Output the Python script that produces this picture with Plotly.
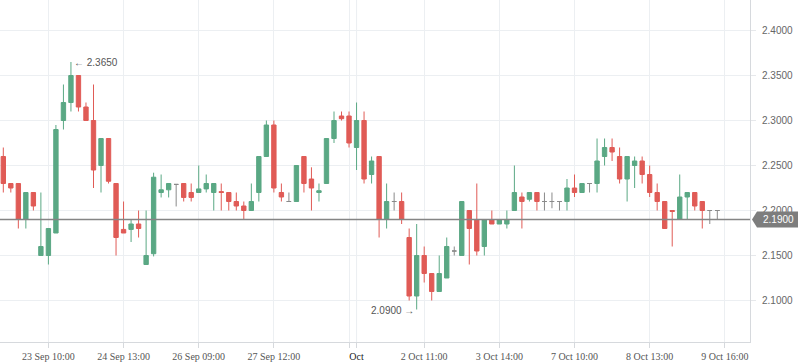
import plotly.graph_objects as go

# ---- data ----
opens = [2.26, 2.23, 2.23, 2.19, 2.22, 2.15, 2.15, 2.175, 2.30, 2.32,
         2.35, 2.315, 2.30, 2.25, 2.28, 2.23, 2.179, 2.179, 2.185, 2.14,
         2.152, 2.22, 2.223, 2.229, 2.23, 2.22, 2.22, 2.224, 2.22, 2.221,
         2.22, 2.21, 2.205, 2.20, 2.22, 2.26, 2.295, 2.22, 2.21, 2.21,
         2.26, 2.235, 2.22, 2.23, 2.28, 2.305, 2.305, 2.27, 2.30, 2.24,
         2.26, 2.19, 2.21, 2.21, 2.17, 2.105, 2.15, 2.13, 2.11, 2.125,
         2.155, 2.15, 2.20, 2.19, 2.16, 2.19, 2.185, 2.185, 2.20, 2.215,
         2.2125, 2.22, 2.21, 2.21, 2.21, 2.21, 2.225, 2.22, 2.23, 2.23,
         2.26, 2.27, 2.26, 2.235, 2.25, 2.255, 2.24, 2.22, 2.21, 2.20,
         2.19, 2.215, 2.22, 2.21, 2.20, 2.20]
highs = [2.27, 2.23, 2.23, 2.22, 2.22, 2.22, 2.18, 2.295, 2.34, 2.365,
         2.35, 2.32, 2.34, 2.28, 2.28, 2.23, 2.21, 2.19, 2.20, 2.20,
         2.242, 2.24, 2.23, 2.229, 2.23, 2.23, 2.25, 2.24, 2.23, 2.23,
         2.22, 2.22, 2.21, 2.23, 2.26, 2.30, 2.30, 2.23, 2.22, 2.25,
         2.26, 2.248, 2.23, 2.28, 2.31, 2.31, 2.31, 2.32, 2.31, 2.26,
         2.26, 2.23, 2.22, 2.22, 2.18, 2.185, 2.16, 2.13, 2.15, 2.17,
         2.16, 2.21, 2.20, 2.23, 2.19, 2.20, 2.19, 2.20, 2.25, 2.22,
         2.22, 2.22, 2.22, 2.22, 2.21, 2.235, 2.24, 2.23, 2.23, 2.28,
         2.28, 2.28, 2.27, 2.26, 2.26, 2.26, 2.25, 2.23, 2.21, 2.20,
         2.24, 2.22, 2.22, 2.21, 2.20, 2.20]
lows = [2.22, 2.22, 2.18, 2.18, 2.20, 2.15, 2.14, 2.175, 2.29, 2.31,
        2.31, 2.30, 2.225, 2.22, 2.23, 2.15, 2.175, 2.165, 2.17, 2.14,
        2.149, 2.2145, 2.2145, 2.2045, 2.21, 2.21, 2.22, 2.22, 2.20, 2.20,
        2.20, 2.20, 2.19, 2.20, 2.21, 2.26, 2.22, 2.21, 2.21, 2.21,
        2.22, 2.20, 2.21, 2.23, 2.275, 2.30, 2.27, 2.245, 2.23, 2.23,
        2.17, 2.18, 2.20, 2.185, 2.10, 2.09, 2.12, 2.10, 2.11, 2.125,
        2.15, 2.15, 2.14, 2.15, 2.15, 2.185, 2.185, 2.18, 2.20, 2.18,
        2.21, 2.20, 2.20, 2.2025, 2.20, 2.20, 2.215, 2.22, 2.22, 2.22,
        2.25, 2.255, 2.23, 2.21, 2.225, 2.23, 2.215, 2.20, 2.18, 2.16,
        2.19, 2.19, 2.20, 2.18, 2.185, 2.19]
closes = [2.23, 2.225, 2.19, 2.22, 2.205, 2.16, 2.18, 2.29, 2.32, 2.35,
          2.315, 2.30, 2.245, 2.28, 2.2325, 2.17, 2.175, 2.185, 2.18, 2.15,
          2.237, 2.223, 2.23, 2.229, 2.2145, 2.2145, 2.224, 2.23, 2.23, 2.22,
          2.21, 2.205, 2.20, 2.21, 2.26, 2.295, 2.225, 2.215, 2.21, 2.25,
          2.23, 2.225, 2.222, 2.28, 2.30, 2.302, 2.275, 2.30, 2.235, 2.255,
          2.19, 2.21, 2.21, 2.19, 2.105, 2.15, 2.13, 2.11, 2.13, 2.16,
          2.155, 2.21, 2.18, 2.155, 2.19, 2.185, 2.19, 2.19, 2.22, 2.21,
          2.22, 2.21, 2.21, 2.21, 2.21, 2.225, 2.22, 2.23, 2.23, 2.255,
          2.27, 2.265, 2.235, 2.26, 2.255, 2.24, 2.22, 2.21, 2.18, 2.199,
          2.215, 2.22, 2.205, 2.20, 2.20, 2.20]

tick_idx = [6, 16, 26, 36, 46, 47, 56, 66, 76, 86, 96]
tick_labels = ["23 Sep 10:00", "24 Sep 13:00", "26 Sep 09:00", "27 Sep 12:00", "",
               "<span style='color:#222'>Oct</span>", "2 Oct 11:00", "3 Oct 14:00",
               "7 Oct 10:00", "8 Oct 13:00", "9 Oct 16:00"]
y_ticks = [2.10, 2.15, 2.20, 2.25, 2.30, 2.35, 2.40]
last_price = 2.19
max_idx, max_price = 9, 2.365
min_idx, min_price = 55, 2.09

GREEN = "#5aa884"
RED = "#e05b56"
GRAY = "#8a8a8a"
GRID = "#eceff2"

idx = list(range(len(opens)))
doji = [o == c for o, c in zip(opens, closes)]


def pick(arr, keep):
    return [v for v, k in zip(arr, keep) if k]


normal = [not d for d in doji]

fig = go.Figure()
fig.add_trace(go.Candlestick(
    x=pick(idx, normal), open=pick(opens, normal), high=pick(highs, normal),
    low=pick(lows, normal), close=pick(closes, normal),
    increasing=dict(line=dict(color=GREEN, width=1), fillcolor=GREEN),
    decreasing=dict(line=dict(color=RED, width=1), fillcolor=RED),
    whiskerwidth=0, hoverinfo="skip"))
fig.add_trace(go.Candlestick(
    x=pick(idx, doji), open=pick(opens, doji), high=pick(highs, doji),
    low=pick(lows, doji), close=pick(closes, doji),
    increasing=dict(line=dict(color=GRAY, width=1), fillcolor=GRAY),
    decreasing=dict(line=dict(color=GRAY, width=1), fillcolor=GRAY),
    whiskerwidth=0, hoverinfo="skip"))

Y0, Y1 = 2.0539, 2.4339
X0, X1 = -0.44, 99.35

# last price line
fig.add_shape(type="line", xref="x", yref="y", x0=X0, x1=X1, y0=last_price, y1=last_price,
              line=dict(color="#858585", width=1.5), layer="above")
# month boundary line
fig.add_shape(type="line", xref="x", yref="paper", x0=47, x1=47, y0=0, y1=1,
              line=dict(color="#dcdfe3", width=1), layer="below")

# price label box with arrow tip (paper coords)
py = (last_price - Y0) / (Y1 - Y0)
hh = 8 / 342
xa, xb, xc = 752 / 750, 757 / 750, 798 / 750
fig.add_shape(type="path", xref="paper", yref="paper",
              path=f"M {xa},{py} L {xb},{py + hh} L {xc},{py + hh} L {xc},{py - hh} L {xb},{py - hh} Z",
              fillcolor="#7d7d7d", line=dict(width=0), layer="above")
fig.add_annotation(xref="paper", yref="y", x=761 / 750, y=last_price, text=f"{last_price:.4f}",
                   showarrow=False, xanchor="left", yanchor="middle",
                   font=dict(family="Liberation Sans", size=10, color="white"))

fig.add_annotation(x=max_idx, y=max_price, text=f"\u2190 {max_price:.4f}", showarrow=False,
                   xanchor="left", yanchor="middle", xshift=1,
                   font=dict(family="Liberation Sans", size=10, color="#555"))
fig.add_annotation(x=min_idx, y=min_price, text=f"{min_price:.4f} \u2192", showarrow=False,
                   xanchor="right", yanchor="middle", xshift=-1, yshift=-1,
                   font=dict(family="Liberation Sans", size=10, color="#555"))

fig.update_layout(
    width=798, height=363, margin=dict(l=0, r=48, t=0, b=21),
    paper_bgcolor="white", plot_bgcolor="white", showlegend=False,
    boxgap=0.42, boxgroupgap=0,
    xaxis=dict(range=[X0, X1], rangeslider=dict(visible=False), tickmode="array",
               tickvals=tick_idx, ticktext=tick_labels, showgrid=True, gridcolor=GRID,
               zeroline=False, showline=True, linecolor="#d6d9dd", ticks="outside",
               ticklen=5, tickcolor="#d6d9dd",
               tickfont=dict(family="Liberation Serif", size=10, color="#555")),
    yaxis=dict(range=[Y0, Y1], side="right", tickmode="array", tickvals=y_ticks,
               ticktext=[f"{v:.4f}" for v in y_ticks], showgrid=True, gridcolor=GRID,
               zeroline=False, showline=True, linecolor="#d6d9dd", ticks="outside",
               ticklen=5, tickcolor="#e6e8eb", ticklabelstandoff=4,
               tickfont=dict(family="Liberation Sans", size=10, color="#666")),
)

fig.write_html("out.html", config=dict(displayModeBar=False),
               post_script="document.body.style.margin='0';document.body.style.padding='0';")
